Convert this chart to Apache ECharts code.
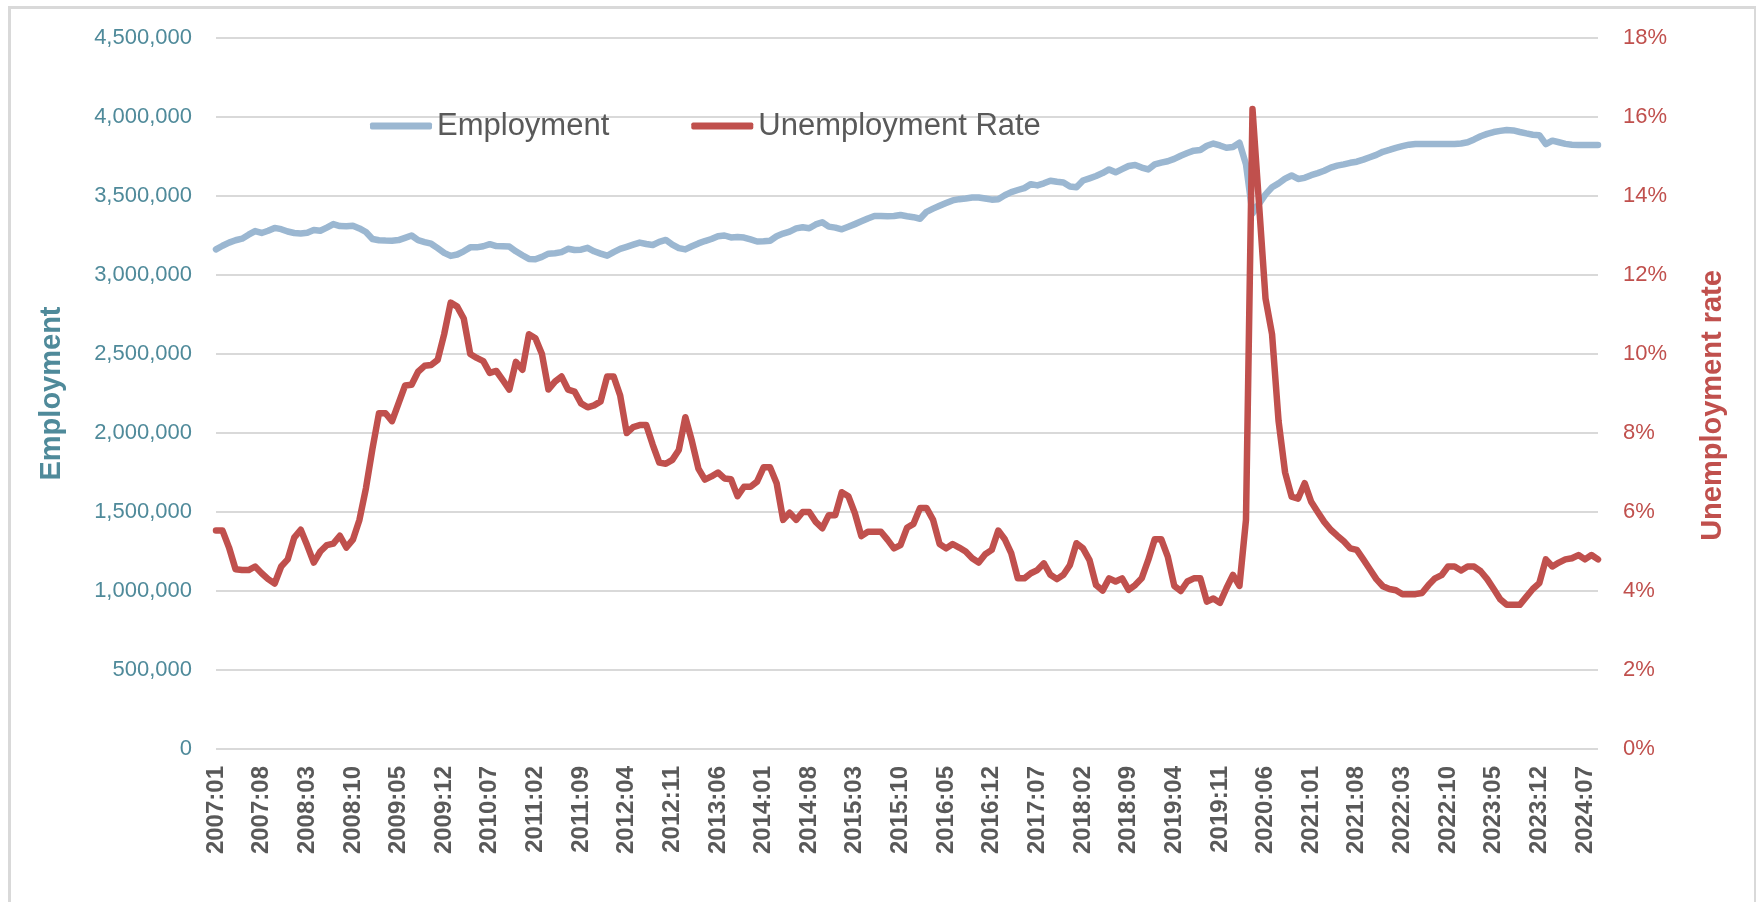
<!DOCTYPE html>
<html>
<head>
<meta charset="utf-8">
<script src="https://cdn.jsdelivr.net/npm/echarts@6/dist/echarts.min.js"></script>
<style>
  html, body { margin: 0; padding: 0; background: #ffffff; }
  #chart { width: 1756px; height: 902px; }
</style>
</head>
<body>
<div id="chart"></div>
<script>
// Monthly series, January 2007 through September 2024
const startYear = 2007;
const monthCount = 213;

// Category labels "YYYY:MM"
const months = [];
for (let k = 0; k < monthCount; k++) {
  const y = startYear + Math.floor(k / 12);
  const m = (k % 12) + 1;
  months.push(y + ':' + (m < 10 ? '0' + m : m));
}

// Employment (persons), one row per year
const employment = [
  3162000, 3185000, 3205000, 3220000, 3230000, 3255000, 3278000, 3266000, 3280000, 3298000, 3290000, 3275000, // 2007
  3266000, 3263000, 3268000, 3285000, 3280000, 3300000, 3322000, 3310000, 3308000, 3312000, 3295000, 3272000, // 2008
  3228000, 3220000, 3218000, 3217000, 3221000, 3235000, 3250000, 3220000, 3208000, 3198000, 3170000, 3140000, // 2009
  3121000, 3130000, 3150000, 3175000, 3175000, 3182000, 3195000, 3183000, 3182000, 3180000, 3150000, 3125000, // 2010
  3102000, 3100000, 3115000, 3135000, 3138000, 3145000, 3166000, 3158000, 3160000, 3172000, 3150000, 3135000, // 2011
  3122000, 3145000, 3165000, 3178000, 3192000, 3205000, 3196000, 3190000, 3210000, 3222000, 3192000, 3170000, // 2012
  3162000, 3182000, 3200000, 3215000, 3228000, 3245000, 3250000, 3238000, 3240000, 3237000, 3225000, 3212000, // 2013
  3213000, 3217000, 3245000, 3262000, 3275000, 3295000, 3302000, 3296000, 3320000, 3334000, 3306000, 3300000, // 2014
  3289000, 3305000, 3322000, 3340000, 3358000, 3373000, 3373000, 3372000, 3373000, 3380000, 3372000, 3366000, // 2015
  3356000, 3400000, 3420000, 3438000, 3455000, 3472000, 3480000, 3484000, 3490000, 3491000, 3484000, 3477000, // 2016
  3480000, 3505000, 3525000, 3538000, 3550000, 3575000, 3567000, 3580000, 3597000, 3590000, 3585000, 3560000, // 2017
  3555000, 3598000, 3612000, 3627000, 3645000, 3668000, 3650000, 3670000, 3690000, 3696000, 3680000, 3668000, // 2018
  3700000, 3711000, 3720000, 3735000, 3755000, 3772000, 3787000, 3791000, 3818000, 3832000, 3820000, 3805000, // 2019
  3810000, 3837000, 3700000, 3390000, 3450000, 3510000, 3555000, 3580000, 3610000, 3630000, 3608000, 3615000, // 2020
  3632000, 3645000, 3660000, 3680000, 3692000, 3700000, 3710000, 3717000, 3730000, 3745000, 3760000, 3780000, // 2021
  3792000, 3805000, 3816000, 3825000, 3829000, 3829000, 3829000, 3829000, 3829000, 3829000, 3829000, 3832000, // 2022
  3840000, 3858000, 3878000, 3893000, 3905000, 3912000, 3918000, 3915000, 3905000, 3896000, 3888000, 3885000, // 2023
  3828000, 3850000, 3840000, 3830000, 3825000, 3823000, 3823000, 3823000, 3823000                               // 2024
];

// Unemployment rate (%), one row per year
const unemploymentRate = [
  5.53, 5.53, 5.10, 4.55, 4.53, 4.53, 4.62, 4.45, 4.30, 4.19, 4.62, 4.80,  // 2007
  5.35, 5.55, 5.15, 4.72, 5.00, 5.16, 5.20, 5.40, 5.10, 5.30, 5.80, 6.60,  // 2008
  7.60, 8.50, 8.50, 8.30, 8.75, 9.20, 9.22, 9.55, 9.70, 9.72, 9.85, 10.50, // 2009
  11.30, 11.20, 10.90, 10.00, 9.90, 9.82, 9.52, 9.57, 9.34, 9.10, 9.80, 9.60, // 2010
  10.50, 10.40, 10.00, 9.10, 9.30, 9.43, 9.10, 9.05, 8.75, 8.65, 8.70, 8.80, // 2011
  9.43, 9.43, 8.95, 8.00, 8.15, 8.20, 8.20, 7.70, 7.25, 7.22, 7.32, 7.57,  // 2012
  8.40, 7.80, 7.10, 6.82, 6.90, 7.00, 6.85, 6.83, 6.40, 6.64, 6.64, 6.77,  // 2013
  7.13, 7.13, 6.73, 5.80, 5.98, 5.80, 6.00, 6.00, 5.75, 5.59, 5.92, 5.92,  // 2014
  6.50, 6.40, 5.97, 5.39, 5.50, 5.50, 5.50, 5.30, 5.08, 5.16, 5.60, 5.70,  // 2015
  6.10, 6.10, 5.80, 5.19, 5.08, 5.19, 5.10, 5.00, 4.83, 4.72, 4.93, 5.04,  // 2016
  5.53, 5.31, 4.95, 4.32, 4.32, 4.45, 4.53, 4.70, 4.41, 4.30, 4.41, 4.66,  // 2017
  5.21, 5.08, 4.78, 4.15, 4.01, 4.32, 4.24, 4.32, 4.03, 4.15, 4.32, 4.78,  // 2018
  5.31, 5.31, 4.87, 4.13, 4.00, 4.24, 4.32, 4.32, 3.73, 3.81, 3.70, 4.07,  // 2019
  4.41, 4.13, 5.80, 16.20, 13.80, 11.40, 10.50, 8.30, 7.00, 6.39, 6.34, 6.73, // 2020
  6.26, 6.00, 5.75, 5.55, 5.40, 5.26, 5.08, 5.04, 4.80, 4.55, 4.30, 4.12,  // 2021
  4.05, 4.02, 3.92, 3.92, 3.92, 3.95, 4.15, 4.32, 4.40, 4.62, 4.62, 4.52,  // 2022
  4.62, 4.62, 4.50, 4.30, 4.05, 3.79, 3.65, 3.65, 3.65, 3.85, 4.05, 4.20,  // 2023
  4.80, 4.62, 4.72, 4.80, 4.83, 4.91, 4.80, 4.91, 4.80                     // 2024
];

// Axis scales
const employmentAxis = { min: 0, max: 4500000, step: 500000 };
const rateAxis = { min: 0, max: 18, step: 2 };

const textFont = "'Liberation Sans', Arial, sans-serif";
const teal = '#4F8A9A';
const red = '#C0504D';
const blue = '#9BB7D1';
const gray = '#595959';

const chart = echarts.init(document.getElementById('chart'), null, { renderer: 'canvas' });

chart.setOption({
  animation: false,
  backgroundColor: '#ffffff',
  graphic: [{
    type: 'rect',
    left: 7, top: 5,
    shape: { width: 1746, height: 1000 },
    style: { fill: 'none', stroke: '#D9D9D9', lineWidth: 3 },
    silent: true,
    z: -1
  }],
  legend: {
    left: 365,
    top: 103,
    icon: 'roundRect',
    itemWidth: 62,
    itemHeight: 7,
    itemGap: 82,
    textStyle: { fontFamily: textFont, fontSize: 31, color: gray, lineHeight: 36 },
    data: ['Employment', 'Unemployment Rate']
  },
  grid: { left: 216, right: 158, top: 38, bottom: 153, containLabel: false },
  xAxis: {
    type: 'category',
    data: months,
    boundaryGap: false,
    axisLine: { show: false },
    axisTick: { show: false },
    axisLabel: {
      interval: 6,
      rotate: 90,
      margin: 17,
      fontFamily: textFont,
      fontSize: 24,
      fontWeight: 'bold',
      color: gray
    },
    splitLine: { show: false }
  },
  yAxis: [{
    type: 'value',
    position: 'left',
    min: employmentAxis.min,
    max: employmentAxis.max,
    interval: employmentAxis.step,
    name: 'Employment',
    nameLocation: 'middle',
    nameRotate: 90,
    nameGap: 150,
    nameTextStyle: { fontFamily: textFont, fontSize: 29, fontWeight: 'bold', color: teal },
    axisLine: { show: false },
    axisTick: { show: false },
    axisLabel: {
      margin: 24,
      fontFamily: textFont,
      fontSize: 22,
      color: teal,
      formatter: v => v.toLocaleString('en-US')
    },
    splitLine: { lineStyle: { color: '#D9D9D9', width: 2 } }
  }, {
    type: 'value',
    position: 'right',
    min: rateAxis.min,
    max: rateAxis.max,
    interval: rateAxis.step,
    name: 'Unemployment rate',
    nameLocation: 'middle',
    nameRotate: 90,
    nameGap: 100,
    nameTextStyle: { fontFamily: textFont, fontSize: 29, fontWeight: 'bold', color: red, padding: [0, 24, 0, 0] },
    axisLine: { show: false },
    axisTick: { show: false },
    axisLabel: {
      margin: 25,
      fontFamily: textFont,
      fontSize: 22,
      color: red,
      formatter: '{value}%'
    },
    splitLine: { show: false }
  }],
  series: [{
    name: 'Employment',
    type: 'line',
    yAxisIndex: 0,
    data: employment,
    showSymbol: false,
    symbol: 'none',
    color: blue,
    lineStyle: { color: blue, width: 6.5, join: 'round', cap: 'round' }
  }, {
    name: 'Unemployment Rate',
    type: 'line',
    yAxisIndex: 1,
    data: unemploymentRate,
    showSymbol: false,
    symbol: 'none',
    color: red,
    lineStyle: { color: red, width: 6.5, join: 'round', cap: 'round' }
  }]
});
</script>
</body>
</html>
